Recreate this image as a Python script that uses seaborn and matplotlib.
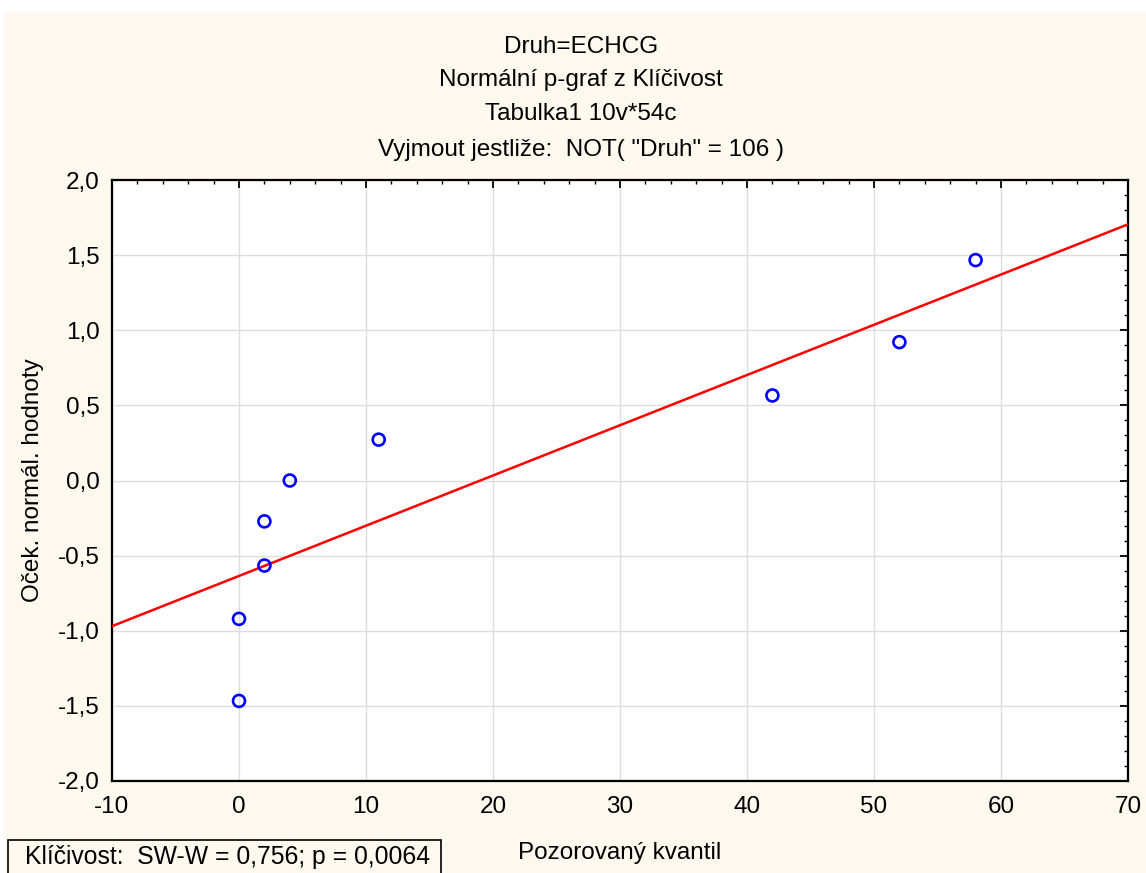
import matplotlib
matplotlib.use("Agg")
import matplotlib.pyplot as plt
from matplotlib.patches import Rectangle
from matplotlib.ticker import MultipleLocator, FixedLocator
import seaborn as sns
import pandas as pd

# Observed quantiles of germination (Klíčivost) and expected normal scores
observed = [0, 0, 2, 2, 4, 11, 42, 52, 58]
expected = [-1.467, -0.921, -0.566, -0.272, 0.0, 0.272, 0.566, 0.921, 1.467]

x_ticks = [-10, 0, 10, 20, 30, 40, 50, 60, 70]
x_tick_labels = ["-10", "0", "10", "20", "30", "40", "50", "60", "70"]
y_ticks = [-2.0, -1.5, -1.0, -0.5, 0.0, 0.5, 1.0, 1.5, 2.0]
y_tick_labels = ["-2,0", "-1,5", "-1,0", "-0,5", "0,0", "0,5", "1,0", "1,5", "2,0"]

title_lines = [
    "Druh=ECHCG",
    "Normální p-graf z Klíčivost",
    "Tabulka1 10v*54c",
    'Vyjmout jestliže:  NOT( "Druh" = 106 )',
]
stat_text = "Klíčivost:  SW-W = 0,756; p = 0,0064"

df = pd.DataFrame({"observed": observed, "expected": expected})

sns.set_style("white")
plt.rcParams["font.family"] = ["Liberation Sans", "DejaVu Sans"]
plt.rcParams["text.color"] = "black"
plt.rcParams["xtick.color"] = "black"
plt.rcParams["ytick.color"] = "black"

FS = 17.5
W, H = 1146, 873
fig = plt.figure(figsize=(W / 100, H / 100), dpi=100)
fig.patch.set_facecolor("white")

cream = "#fdf9ef"
fig.add_artist(Rectangle((5 / W, 0), 1 - 5 / W, 1 - 13 / H, transform=fig.transFigure,
                         facecolor=cream, edgecolor="none", zorder=0))

ax = fig.add_axes([112 / W, 1 - 781 / H, (1128 - 112) / W, (781 - 180) / H])
ax.set_facecolor("white")
ax.set_xlim(-10, 70)
ax.set_ylim(-2, 2)

# Fitted line across the full x range
sns.regplot(data=df, x="observed", y="expected", ax=ax, scatter=False, ci=None,
            truncate=False, color="#ff0000", line_kws={"linewidth": 1.8, "zorder": 3})
sns.scatterplot(data=df, x="observed", y="expected", ax=ax, s=74, marker="o",
                facecolors="none", edgecolor="#0000ff", linewidth=1.9, zorder=4)

ax.set_xlim(-10, 70)
ax.set_ylim(-2, 2)
ax.xaxis.set_major_locator(FixedLocator(x_ticks))
ax.yaxis.set_major_locator(FixedLocator(y_ticks))
ax.set_xticklabels(x_tick_labels)
ax.set_yticklabels(y_tick_labels)
ax.xaxis.set_minor_locator(MultipleLocator(2))
ax.yaxis.set_minor_locator(MultipleLocator(0.1))

ax.grid(True, which="major", color="#dddddd", linewidth=1.0)
ax.set_axisbelow(True)
for s in ax.spines.values():
    s.set_color("black")
    s.set_linewidth(1.6)

ax.tick_params(which="both", direction="in", top=True, right=True, color="black")
ax.tick_params(which="major", length=6, width=1.3, labelsize=FS, labelcolor="black")
ax.tick_params(which="minor", length=3, width=1.0)
ax.tick_params(axis="x", pad=11)
ax.tick_params(axis="y", pad=9)

ax.set_xlabel("")
ax.set_ylabel("")

fig.text(620 / W, 1 - 853 / H, "Pozorovaný kvantil", ha="center", va="center", fontsize=FS)
fig.text(33 / W, 1 - 480 / H, "Oček. normál. hodnoty", ha="center", va="center",
         rotation=90, fontsize=FS)

for yc, line in zip([47, 80, 114, 150], title_lines):
    fig.text(581 / W, 1 - yc / H, line, ha="center", va="center", fontsize=FS)

fig.add_artist(Rectangle((8 / W, -0.01), (441 - 8) / W, (873 - 840) / H + 0.01,
                         transform=fig.transFigure, facecolor=cream,
                         edgecolor="black", linewidth=1.2, zorder=2))
fig.text(25 / W, 1 - 857 / H, stat_text, ha="left", va="center", fontsize=FS * 1.02, zorder=3)

fig.savefig("out.png", dpi=100, facecolor=fig.get_facecolor())
